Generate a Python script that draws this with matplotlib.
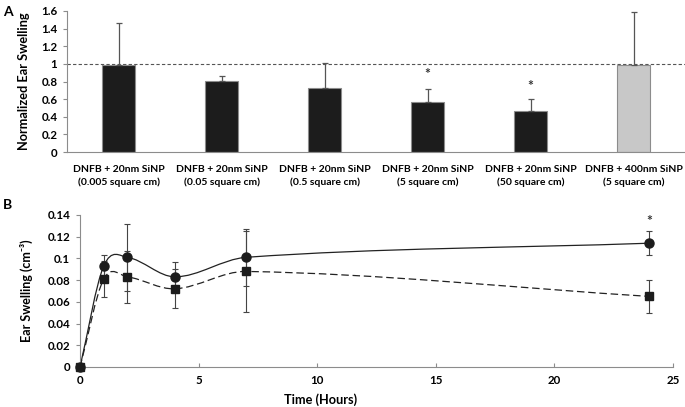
import numpy as np
import matplotlib
matplotlib.use("Agg")
import matplotlib.pyplot as plt
from matplotlib.path import Path
from matplotlib.patches import PathPatch

plt.rcParams['font.family'] = ['Lato', 'DejaVu Sans']
plt.rcParams['font.weight'] = 'bold'

# Panel A data
categories = ["DNFB + 20nm SiNP\n(0.005 square cm)", "DNFB + 20nm SiNP\n(0.05 square cm)",
              "DNFB + 20nm SiNP\n(0.5 square cm)", "DNFB + 20nm SiNP\n(5 square cm)",
              "DNFB + 20nm SiNP\n(50 square cm)", "DNFB + 400nm SiNP\n(5 square cm)"]
swelling = [0.99, 0.81, 0.73, 0.57, 0.47, 0.99]
swelling_err = [0.47, 0.05, 0.28, 0.14, 0.13, 0.595]
star_a = [3, 4]
star_a_y = [0.885, 0.75]

# Panel B data
hours = [0, 1, 2, 4, 7, 24]
circle_vals = [0.0, 0.093, 0.101, 0.083, 0.101, 0.114]
circle_err = [0.0, 0.010, 0.031, 0.014, 0.026, 0.011]
square_vals = [0.0, 0.081, 0.083, 0.072, 0.088, 0.065]
square_err = [0.0, 0.017, 0.024, 0.018, 0.037, 0.015]
star_b_x, star_b_y = 24, 0.134


def smooth_path(x, y):
    # cubic Hermite (Excel-like smoothed line) as bezier segments
    x = np.asarray(x, float)
    y = np.asarray(y, float)
    n = len(x)
    m = np.zeros(n)
    for i in range(n):
        if i == 0:
            m[i] = (y[1] - y[0]) / (x[1] - x[0])
        elif i == n - 1:
            m[i] = (y[-1] - y[-2]) / (x[-1] - x[-2])
        else:
            m[i] = (y[i + 1] - y[i - 1]) / (x[i + 1] - x[i - 1])
    verts = [(x[0], y[0])]
    codes = [Path.MOVETO]
    for i in range(n - 1):
        h = x[i + 1] - x[i]
        verts += [(x[i] + h / 3, y[i] + m[i] * h / 3),
                  (x[i + 1] - h / 3, y[i + 1] - m[i + 1] * h / 3),
                  (x[i + 1], y[i + 1])]
        codes += [Path.CURVE4] * 3
    return Path(verts, codes)


fig = plt.figure(figsize=(6.85, 4.07), dpi=100)
axis_col = '#8c8c8c'

# ---- Panel A ----
ax1 = fig.add_axes([0.098, 0.6265, 0.902, 0.3465])
pos = np.arange(len(categories))
colors = ['#1c1c1c'] * 5 + ['#c8c8c8']
ax1.bar(pos, swelling, width=0.32, color=colors, edgecolor='#8c8c8c', linewidth=0.8, zorder=2)
ax1.errorbar(pos, swelling, yerr=[np.zeros(len(pos)), swelling_err], fmt='none',
             ecolor='#555555', elinewidth=0.9, capsize=2, capthick=0.9, zorder=3)
ax1.axhline(1.0, color='#555555', linestyle=(0, (3, 2)), linewidth=0.8, zorder=1)
for i, sy in zip(star_a, star_a_y):
    ax1.text(i, sy, '*', ha='center', va='center', fontsize=10, color='#333333')
ax1.set_xlim(-0.5, 5.5)
ax1.set_ylim(0, 1.6)
ax1.set_yticks(np.arange(0, 1.61, 0.2))
ax1.set_yticklabels(['0', '0.2', '0.4', '0.6', '0.8', '1', '1.2', '1.4', '1.6'])
ax1.set_xticks(pos)
ax1.set_xticklabels(categories, fontsize=7.5, linespacing=1.5)
ax1.tick_params(axis='x', length=0, pad=9)
ax1.tick_params(axis='y', labelsize=8.3, length=3, color=axis_col, direction='out', pad=4)
ax1.set_ylabel('Normalized Ear Swelling', fontsize=9.2, fontweight='bold')
ax1.yaxis.set_label_coords(-0.06, 0.5)
for s in ['top', 'right']:
    ax1.spines[s].set_visible(False)
for s in ['left', 'bottom']:
    ax1.spines[s].set_color(axis_col)

# ---- Panel B ----
ax2 = fig.add_axes([0.1168, 0.0983, 0.8657, 0.3735])
ax2.add_patch(PathPatch(smooth_path(hours, circle_vals), fill=False, edgecolor='#222222',
                        linewidth=0.9, zorder=2))
ax2.add_patch(PathPatch(smooth_path(hours, square_vals), fill=False, edgecolor='#222222',
                        linewidth=0.9, linestyle=(0, (6, 3)), zorder=2))
c1 = ax2.errorbar(hours, circle_vals, yerr=circle_err, fmt='o', color='#1c1c1c', markersize=6.5,
                  ecolor='#444444', elinewidth=0.8, capsize=2, capthick=0.8, zorder=3)
c2 = ax2.errorbar(hours, square_vals, yerr=square_err, fmt='s', color='#1c1c1c', markersize=6,
                  ecolor='#444444', elinewidth=0.8, capsize=2, capthick=0.8, zorder=3)
for cont in (c1, c2):
    cont[0].set_clip_on(False)
ax2.text(star_b_x, star_b_y, '*', ha='center', va='center', fontsize=10, color='#333333')
ax2.set_xlim(0, 25)
ax2.set_ylim(0, 0.14)
ax2.set_xticks([0, 5, 10, 15, 20, 25])
ax2.set_yticks(np.arange(0, 0.141, 0.02))
ax2.set_yticklabels(['0', '0.02', '0.04', '0.06', '0.08', '0.1', '0.12', '0.14'])
ax2.tick_params(axis='both', labelsize=8.3, length=3, color=axis_col)
ax2.tick_params(axis='x', direction='in', pad=6)
ax2.tick_params(axis='y', direction='out', pad=4)
ax2.set_xlabel('Time (Hours)', fontsize=9.2, fontweight='bold')
ax2.xaxis.set_label_coords(0.405, -0.17)
ax2.set_ylabel('Ear Swelling (cm⁻³)', fontsize=9, fontweight='bold')
ax2.yaxis.set_label_coords(-0.08, 0.5)
for s in ['top', 'right']:
    ax2.spines[s].set_visible(False)
for s in ['left', 'bottom']:
    ax2.spines[s].set_color(axis_col)

fig.text(0.004, 0.985, 'A', fontsize=10, fontweight='bold', va='top')
fig.text(0.004, 0.51, 'B', fontsize=10, fontweight='bold', va='top')

fig.savefig('out.png', dpi=100)
